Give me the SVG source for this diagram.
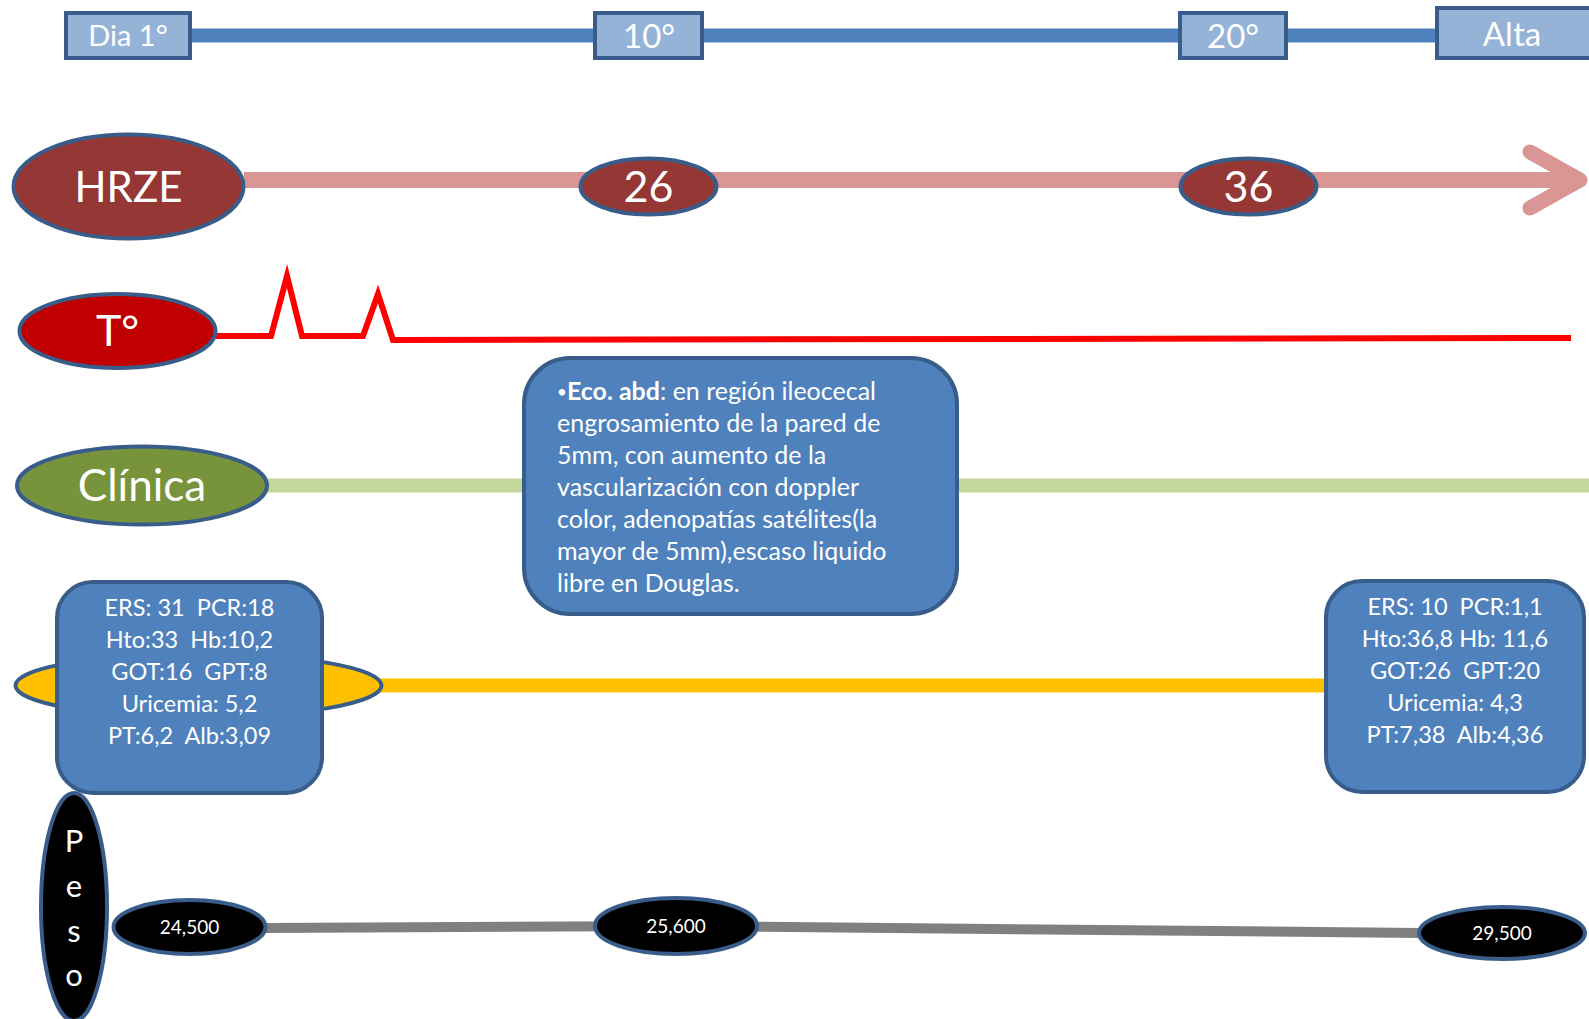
<svg xmlns="http://www.w3.org/2000/svg" width="1589" height="1019" viewBox="0 0 1589 1019">
<style>
.t{font-family:Lato,"Open Sans","Liberation Sans",sans-serif;fill:#fff;text-anchor:middle}
.day{fill:#95B3D7;stroke:#385D8A;stroke-width:4}
.node{stroke:#385D8A;stroke-width:4}
.box{fill:#4F81BD;stroke:#385D8A;stroke-width:4}
.eco{font-family:Lato,"Open Sans","Liberation Sans",sans-serif;fill:#fff;font-size:25px}
.lab{font-size:23.5px;white-space:pre}
</style>
<rect width="1589" height="1019" fill="#fff"/>
<g id="connectors" fill="none">
  <line x1="190" y1="35.5" x2="1437" y2="35.5" stroke="#4F81BD" stroke-width="14"/>
  <line x1="244" y1="180" x2="1575" y2="180" stroke="#D99694" stroke-width="16"/>
  <polyline points="1530,152 1580,180 1530,208" stroke="#D99694" stroke-width="15" stroke-linecap="round" stroke-linejoin="round"/>
  <polyline points="216,336 271,336 287,276 302,336 363,336 378,294 393,340 1571,338" stroke="#FF0000" stroke-width="6" stroke-linejoin="miter"/>
  <line x1="268" y1="485.5" x2="1589" y2="485.5" stroke="#C3D69B" stroke-width="14"/>
  <line x1="380" y1="685.5" x2="1330" y2="685.5" stroke="#FFC000" stroke-width="14"/>
  <polyline points="264,928 677,926 1420,933" stroke="#808080" stroke-width="10"/>
</g>
<g id="day1"><rect class="day" x="66" y="13" width="124" height="45"/><text class="t" x="128" y="46" font-size="29">Dia 1°</text></g>
<g id="day10"><rect class="day" x="595" y="13" width="107" height="45"/><text class="t" x="649" y="48" font-size="33">10°</text></g>
<g id="day20"><rect class="day" x="1180" y="13" width="106" height="45"/><text class="t" x="1233" y="48" font-size="33">20°</text></g>
<g id="alta"><rect class="day" x="1437" y="8" width="154" height="50"/><text class="t" x="1512" y="46" font-size="33">Alta</text></g>

<g id="hrze"><ellipse class="node" cx="128.5" cy="186.5" rx="115" ry="52" fill="#953735"/><text class="t" x="128.5" y="202" font-size="42">HRZE</text></g>
<g id="d26"><ellipse class="node" cx="648.5" cy="186.5" rx="68" ry="28" fill="#953735"/><text class="t" x="648.5" y="202" font-size="43">26</text></g>
<g id="d36"><ellipse class="node" cx="1248.5" cy="186.5" rx="68" ry="28" fill="#953735"/><text class="t" x="1248.5" y="202" font-size="43">36</text></g>

<g id="temp"><ellipse class="node" cx="117.5" cy="331" rx="98" ry="37" fill="#C00000"/><text class="t" x="117.5" y="346" font-size="43">T°</text></g>

<g id="clinica"><ellipse class="node" cx="142" cy="485.5" rx="125" ry="39" fill="#77933C"/><text class="t" x="142" y="501" font-size="44">Clínica</text></g>

<g id="eco">
  <rect class="box" x="524" y="358" width="433" height="256" rx="46"/>
  <text class="eco" x="557">
    <tspan x="557" y="399.5"><tspan font-size="17" dy="-2">•</tspan><tspan font-weight="bold" dy="2">Eco. abd</tspan>: en región ileocecal</tspan>
    <tspan x="557" y="431.5">engrosamiento de la pared de</tspan>
    <tspan x="557" y="463.5">5mm, con aumento de la</tspan>
    <tspan x="557" y="495.5">vascularización con doppler</tspan>
    <tspan x="557" y="527.5">color, adenopatías satélites(la</tspan>
    <tspan x="557" y="559.5">mayor de 5mm),escaso liquido</tspan>
    <tspan x="557" y="591.5">libre en Douglas.</tspan>
  </text>
</g>

<g id="lab-ellipse"><ellipse class="node" cx="198.5" cy="685.5" rx="183" ry="32" fill="#FFC000" stroke-width="3.5"/></g>

<g id="peso"><ellipse class="node" cx="74" cy="907" rx="33" ry="114" fill="#000"/>
  <text class="t" x="74" font-size="31"><tspan x="74" y="852">P</tspan><tspan x="74" y="897">e</tspan><tspan x="74" y="942">s</tspan><tspan x="74" y="986">o</tspan></text>
</g>

<g id="lab1">
  <rect class="box" x="57" y="582" width="265" height="211" rx="36"/>
  <text class="t lab" xml:space="preserve"><tspan x="189.5" y="616">ERS: 31  PCR:18</tspan><tspan x="189.5" y="648">Hto:33  Hb:10,2</tspan><tspan x="189.5" y="680">GOT:16  GPT:8</tspan><tspan x="189.5" y="712">Uricemia: 5,2</tspan><tspan x="189.5" y="744">PT:6,2  Alb:3,09</tspan></text>
</g>
<g id="lab2">
  <rect class="box" x="1326" y="581" width="258" height="211" rx="36"/>
  <text class="t lab" xml:space="preserve"><tspan x="1455" y="615">ERS: 10  PCR:1,1</tspan><tspan x="1455" y="647">Hto:36,8 Hb: 11,6</tspan><tspan x="1455" y="679">GOT:26  GPT:20</tspan><tspan x="1455" y="711">Uricemia: 4,3</tspan><tspan x="1455" y="743">PT:7,38  Alb:4,36</tspan></text>
</g>

<g id="w24500"><ellipse class="node" cx="189.5" cy="927" rx="76" ry="27" fill="#000"/><text class="t" x="189.5" y="934" font-size="19">24,500</text></g>
<g id="w25600"><ellipse class="node" cx="676" cy="926" rx="81" ry="28" fill="#000"/><text class="t" x="676" y="933" font-size="19">25,600</text></g>
<g id="w29500"><ellipse class="node" cx="1502" cy="933" rx="83" ry="26" fill="#000"/><text class="t" x="1502" y="940" font-size="19">29,500</text></g>
</svg>
